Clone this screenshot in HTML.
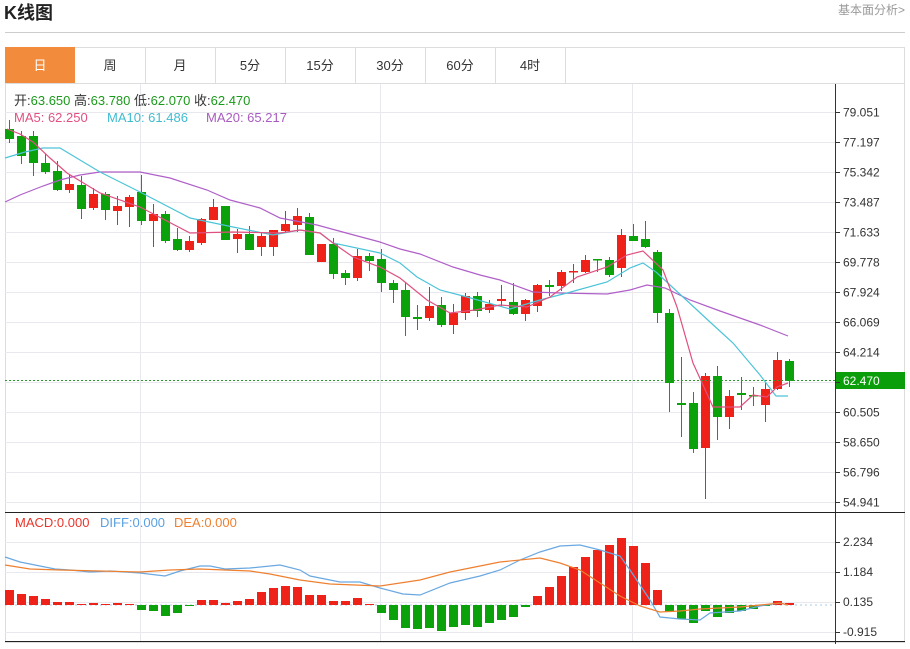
<!DOCTYPE html>
<html><head><meta charset="utf-8"><style>
body{margin:0;background:#fff;width:910px;height:644px;overflow:hidden;font-family:"Liberation Sans","Noto Sans CJK SC",sans-serif}
svg text{font-family:"Liberation Sans","Noto Sans CJK SC",sans-serif}
</style></head><body>
<svg id="s" width="910" height="644" xmlns="http://www.w3.org/2000/svg">
<text x="4" y="19" font-size="18" font-weight="bold" fill="#222">K线图</text>
<text x="905" y="14" font-size="12" fill="#999" text-anchor="end">基本面分析&gt;</text>
<line x1="5" y1="32.5" x2="905" y2="32.5" stroke="#ccc"/>
<rect x="5.5" y="47.5" width="899" height="595" fill="none" stroke="#ddd"/>
<rect x="5" y="47" width="70" height="36" fill="#f28c3c"/>
<line x1="5" y1="83.5" x2="905" y2="83.5" stroke="#ddd"/>
<g font-size="13" fill="#333" text-anchor="middle">
<text x="40" y="70" fill="#fff">日</text><text x="110" y="70">周</text><text x="180" y="70">月</text><text x="250" y="70">5分</text><text x="320" y="70">15分</text><text x="390" y="70">30分</text><text x="460" y="70">60分</text><text x="530" y="70">4时</text>
</g>
<g stroke="#ddd"><line x1="145.5" y1="47" x2="145.5" y2="83"/><line x1="215.5" y1="47" x2="215.5" y2="83"/><line x1="285.5" y1="47" x2="285.5" y2="83"/><line x1="355.5" y1="47" x2="355.5" y2="83"/><line x1="425.5" y1="47" x2="425.5" y2="83"/><line x1="495.5" y1="47" x2="495.5" y2="83"/><line x1="565.5" y1="47" x2="565.5" y2="83"/></g>
<g id="grid" stroke="#e8e8ee"></g>
<g id="c"></g>
<line x1="835.5" y1="84" x2="835.5" y2="644" stroke="#333"/>
<line x1="5" y1="512.5" x2="905" y2="512.5" stroke="#222"/>
<line x1="5" y1="641.5" x2="905" y2="641.5" stroke="#222"/>
<line x1="5" y1="380.5" x2="835" y2="380.5" stroke="#2a9a2a" stroke-dasharray="2,2"/>
<rect x="836" y="372" width="69" height="17" fill="#0a9e0a"/>
<text x="843" y="385" font-size="12" fill="#fff">62.470</text>
<g font-size="13">
<text x="14" y="105" fill="#333">开:<tspan fill="#1a9a1a">63.650</tspan>  高:<tspan fill="#1a9a1a">63.780</tspan>  低:<tspan fill="#1a9a1a">62.070</tspan>  收:<tspan fill="#1a9a1a">62.470</tspan></text>
<text x="14" y="122" fill="#e0507f">MA5: 62.250</text><text x="107" y="122" fill="#3fbcd0">MA10: 61.486</text><text x="206" y="122" fill="#a95cc0">MA20: 65.217</text>
<text x="15" y="527" fill="#e8352a">MACD:0.000</text><text x="100" y="527" fill="#5aa0e0">DIFF:0.000</text><text x="174" y="527" fill="#ee8030">DEA:0.000</text>
</g>
</svg>
<script>
const s=document.getElementById('c'),g=document.getElementById('grid'),N='http://www.w3.org/2000/svg',S=document.getElementById('s');
function el(p,t,a){const e=document.createElementNS(N,t);for(const k in a)e.setAttribute(k,a[k]);p.appendChild(e);return e;}
const ticks=['79.051','77.197','75.342','73.487','71.633','69.778','67.924','66.069','64.214','','60.505','58.650','56.796','54.941'];
ticks.forEach((t,i)=>{const y=112+30*i+.5;el(g,'line',{x1:5,x2:835,y1:y,y2:y});el(S,'line',{x1:835,x2:840,y1:y,y2:y,stroke:'#333'});if(t){const e=el(S,'text',{x:843,y:y+4,'font-size':12,fill:'#333'});e.textContent=t;}});
[['2.234',542],['1.184',572],['0.135',602],['-0.915',632]].forEach(([t,y])=>{el(g,'line',{x1:5,x2:835,y1:y+.5,y2:y+.5});el(S,'line',{x1:835,x2:840,y1:y+.5,y2:y+.5,stroke:'#333'});const e=el(S,'text',{x:843,y:y+4,'font-size':12,fill:'#333'});e.textContent=t;});
[140,380,632].forEach(x=>el(g,'line',{x1:x+.5,x2:x+.5,y1:84,y2:642}));
const C=[['g',129,139,120,143],['g',136,156,131,164],['g',136,163,131,176],['g',163,172,154,174],['g',171,190,161,191],['r',184,190,175,193],['g',185,209,176,219],['r',194,208,188,210],['g',194,210,192,220],['r',206,211,196,225],['r',197,207,195,227],['g',192,221,175,225],['r',214,221,204,247],['g',214,241,211,243],['g',239,250,228,251],['r',241,250,236,252],['r',219,243,218,245],['r',207,220,199,220],['g',206,240,206,240],['r',234,239,229,253],['g',234,250,226,250],['r',236,247,232,256],['r',230,247,231,256],['r',224,231,211,232],['r',216,225,208,232],['g',217,255,213,255],['r',244,262,244,262],['g',244,274,238,279],['g',273,278,270,285],['r',256,278,249,281],['g',256,261,253,271],['g',259,283,249,292],['g',283,290,280,303],['g',290,317,283,336],
['g',317,319,305,330],['r',306,318,287,321],['g',305,325,297,327],['r',313,325,304,334],['r',296,313,293,320],['g',296,311,292,317],['r',304,310,300,313],['r',299,301,285,306],['g',302,314,283,315],['r',300,314,299,321],['r',285,306,284,312],['g',285,287,280,296],['r',272,286,270,291],['r',271,272,264,283],['r',260,272,255,273],['g',259,260,259,272],['g',260,275,257,277],['r',235,268,229,277],['g',236,241,224,241],['g',239,247,221,248],['g',252,313,250,323],['g',313,383,309,412],['g',403,405,357,437],['g',403,449,392,453],['r',376,448,373,499],['g',376,417,366,440],['r',396,417,390,429],['g',393,395,377,410],['g',395,396,387,406],['r',389,405,383,422],['r',360,389,352,390],['g',361,381,359,387]];
const col={r:'#ee2218',g:'#0ba10b'};
function line(pts,c){el(s,'polyline',{points:pts.map(p=>p.join(',')).join(' '),fill:'none',stroke:c,'stroke-width':1.2});}
C.forEach((d,i)=>{const x=9+12*i,c=col[d[0]];el(s,'line',{x1:x+.5,x2:x+.5,y1:d[3],y2:d[4],stroke:c});el(s,'rect',{x:x-4,y:d[1],width:9,height:Math.max(1.5,d[2]-d[1]),fill:c});});
line([[5,202],[20,195],[43,186],[60,180],[80,175],[100,172],[140,172],[170,178],[207,190],[230,200],[260,208],[280,218],[317,225],[350,234],[380,242],[400,249],[420,254],[453,267],[480,275],[500,280],[533,292],[560,293],[607,294],[630,290],[647,285],[665,288],[690,300],[720,311],[760,325],[788,336]],'#b060c8');
line([[5,158],[25,152],[43,148],[60,148],[80,160],[100,172],[140,192],[190,218],[233,227],[273,235],[300,230],[320,233],[333,243],[380,253],[400,263],[417,277],[440,290],[467,297],[510,309],[540,300],[567,293],[607,282],[630,268],[643,263],[656,272],[683,297],[710,322],[733,343],[760,375],[776,396],[788,396]],'#4cc4d8');
line([[7,129],[20,134],[33,142],[50,158],[67,173],[100,193],[140,207],[190,233],[233,232],[280,233],[300,230],[320,233],[333,243],[353,257],[380,267],[400,278],[427,300],[450,313],[475,310],[500,305],[527,307],[550,297],[577,277],[607,267],[627,255],[643,251],[663,270],[677,307],[693,363],[713,407],[740,407],[753,395],[767,397],[777,387],[788,383]],'#e0507f');
el(s,'line',{x1:5,x2:835,y1:605,y2:605,stroke:'#a8c8e0','stroke-dasharray':'2,3'});
const M=[590,594,596,599,602,602,604,603,604,603,604,610,611,616,613,606,600,600,603,601,599,592,588,586,587,595,595,601,601,598,604,613,620,628,629,628,631,627,625,627,623,620,617,607,596,587,576,567,557,550,545,538,546,563,590,612,619,623,611,617,613,611,609,606,601,603];
M.forEach((y,i)=>{const x=9+12*i-4;if(y<605)el(s,'rect',{x,y,width:9,height:605-y,fill:'#ee2218'});else el(s,'rect',{x,y:605,width:9,height:Math.max(1,y-605),fill:'#0ba10b'});});
line([[5,557],[20,562],[55,569],[70,570],[90,572],[110,571],[140,573],[165,576],[180,571],[200,566],[210,566],[225,569],[250,568],[280,565],[300,570],[310,576],[340,582],[360,582],[380,588],[403,594],[420,595],[450,583],[480,576],[500,570],[520,560],[540,552],[560,546],[580,545],[600,550],[620,556],[630,570],[650,600],[660,617],[680,619],[700,620],[710,613],[740,611],[760,606],[780,603],[788,605]],'#6aa8e0');
line([[5,565],[30,569],[60,570],[100,571],[140,572],[170,570],[200,569],[250,571],[270,574],[300,580],[330,584],[380,586],[420,580],[450,572],[480,566],[500,562],[540,558],[560,563],[580,570],[600,583],[620,596],[640,606],[660,612],[680,611],[700,609],[740,607],[760,605],[780,603],[788,605]],'#ee8030');
</script>
</body></html>
